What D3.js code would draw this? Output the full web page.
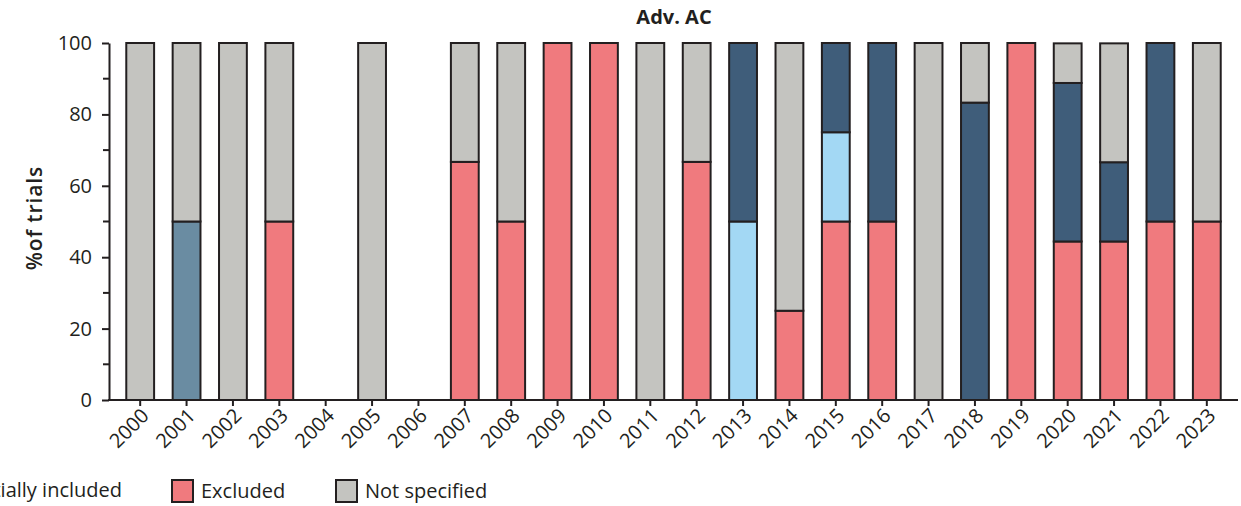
<!DOCTYPE html>
<html><head><meta charset="utf-8">
<script src="https://cdn.jsdelivr.net/npm/d3@7"></script>
<style>body{margin:0;background:#fff}svg{display:block;font-family:"Open Sans",sans-serif}</style>
</head><body><svg id="c" width="1241" height="506"></svg>
<script>
const years = ["2000","2001","2002","2003","2004","2005","2006","2007","2008","2009","2010","2011","2012","2013","2014","2015","2016","2017","2018","2019","2020","2021","2022","2023"];
// bottom to top stacking order
const included2001 = [0,50,0,0,0,0,0,0,0,0,0,0,0,0,0,0,0,0,0,0,0,0,0,0];
const excluded     = [0,0,0,50,0,0,0,66.7,50,100,100,0,66.7,0,25,50,50,0,0,100,44.4,44.4,50,50];
const partially    = [0,0,0,0,0,0,0,0,0,0,0,0,0,50,0,25,0,0,0,0,0,0,0,0];
const fully        = [0,0,0,0,0,0,0,0,0,0,0,0,0,50,0,25,50,0,83.3,0,44.4,22.2,50,0];
const notSpecified = [100,50,100,50,0,100,0,33.3,50,0,0,100,33.3,0,75,0,0,100,16.7,0,11.1,33.3,0,50];
const yTicks = [0,20,40,60,80,100];
const yMinor = [10,30,50,70,90];
const title = "Adv. AC";
const yLabel = "%of trials";
const legendItems = [{name:"Partially included",color:"#a3d8f4"},{name:"Excluded",color:"#f07a7e"},{name:"Not specified",color:"#c4c4c0"}];

const seriesArrays = [included2001, excluded, partially, fully, notSpecified];
const colors = ["#6a8ca2","#f07a7e","#a3d8f4","#3f5d7a","#c4c4c0"];

const svg = d3.select("#c");
const x = d3.scaleBand().domain(years).range([117,1230]).padding(0);
const y = d3.scaleLinear().domain([0,100]).range([400,43]);
const bw = x.bandwidth()*0.6;
const ink = "#231f20";

years.forEach((yr,i)=>{
  let base = 0;
  seriesArrays.forEach((arr,s)=>{
    const v = arr[i];
    if(v>0){
      svg.append("rect")
        .attr("x", x(yr)+(x.bandwidth()-bw)/2)
        .attr("y", y(base+v))
        .attr("width", bw)
        .attr("height", y(base)-y(base+v))
        .attr("fill", colors[s])
        .attr("stroke", ink).attr("stroke-width",2);
      base += v;
    }
  });
});

// y axis
const yAxis = svg.append("g").attr("transform","translate(109,0)")
  .call(d3.axisLeft(y).tickValues(yTicks).tickSize(7).tickSizeOuter(0));
yAxis.select(".domain").attr("stroke",ink).attr("stroke-width",2);
yAxis.selectAll(".tick line").attr("stroke",ink).attr("stroke-width",2);
yAxis.selectAll(".tick text").attr("font-size",20).attr("fill","#231f20").attr("font-family","Open Sans").attr("x",-17);
yAxis.selectAll(".minor").data(yMinor).enter().append("line").attr("class","minor")
  .attr("x1",-6).attr("x2",0).attr("y1",d=>y(d)).attr("y2",d=>y(d)).attr("stroke",ink).attr("stroke-width",2);

// x axis
const xAxis = svg.append("g").attr("transform","translate(0,400)")
  .call(d3.axisBottom(x).tickSize(6).tickSizeOuter(0));
xAxis.select(".domain").remove();
svg.append("line").attr("x1",108).attr("x2",1238).attr("y1",400).attr("y2",400).attr("stroke",ink).attr("stroke-width",2);
xAxis.selectAll(".tick line").attr("stroke",ink).attr("stroke-width",2);
xAxis.selectAll(".tick text").attr("font-size",20).attr("fill","#231f20").attr("font-family","Open Sans")
  .attr("text-anchor","end").attr("dy",0).attr("y",0)
  .attr("transform","translate(10,17) rotate(-45)");

// title
svg.append("text").attr("x",674).attr("y",24).attr("text-anchor","middle")
  .attr("font-size",20).attr("font-weight","bold").attr("fill","#231f20").text(title);
// y label
svg.append("text").attr("transform","translate(42,218) rotate(-90)").attr("text-anchor","middle")
  .attr("font-size",21).attr("font-weight",600).attr("letter-spacing",0.9).attr("fill","#231f20").text(yLabel);

// legend
const lg = svg.append("g");
const legendX = [-60,172,336];
legendItems.forEach((d,i)=>{
  const gx = legendX[i];
  if(i>0){
    lg.append("rect").attr("x",gx).attr("y",480).attr("width",21).attr("height",22)
      .attr("fill",d.color).attr("stroke",ink).attr("stroke-width",2);
    lg.append("text").attr("x",gx+29).attr("y",498).attr("font-size",20).attr("fill","#231f20").text(d.name);
  } else {
    lg.append("text").attr("x",122).attr("y",497).attr("text-anchor","end").attr("font-size",20).attr("fill","#231f20").text(d.name);
  }
});
</script></body></html>
